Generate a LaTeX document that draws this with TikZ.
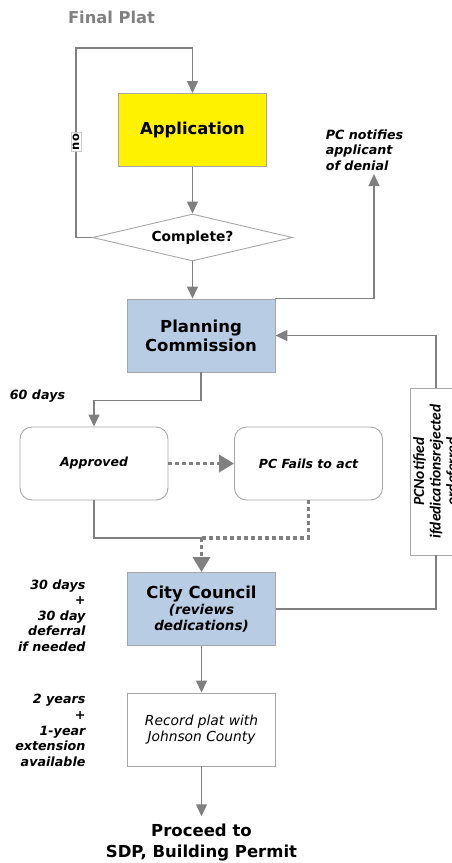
\documentclass[tikz,border=0pt]{standalone}
\usepackage{fontspec}
\setmainfont{DejaVu Sans}
\newfontfamily\notefont{Carlito}
\usetikzlibrary{shapes,arrows.meta,positioning}
\definecolor{pcblue}{HTML}{B8CCE4}
\definecolor{linegray}{HTML}{808080}
\definecolor{boxgray}{HTML}{A6A6A6}

\begin{document}
\begin{tikzpicture}[x=1pt, y=-1pt,
    box/.style={rectangle, draw=boxgray, line width=0.9pt, minimum width=148pt, minimum height=73pt, align=center},
    app/.style={box, fill=yellow, font=\fontsize{16.4}{19}\selectfont\bfseries},
    pc/.style={box, fill=pcblue, font=\fontsize{16.5}{19}\selectfont\bfseries},
    record/.style={box, fill=white, font=\fontsize{13.8}{15.5}\selectfont\itshape},
    stage/.style={rectangle, draw=boxgray, line width=0.9pt, rounded corners=12pt, minimum width=148pt, minimum height=73pt, font=\fontsize{12.5}{14}\selectfont\bfseries\itshape},
    decision/.style={diamond, draw=boxgray, line width=0.9pt, aspect=4.2, inner sep=0pt, minimum width=200pt, minimum height=47pt, font=\fontsize{13.8}{15}\selectfont\bfseries},
    note/.style={font=\fontsize{12.7}{15.6}\selectfont\bfseries\itshape, align=right},
    line/.style={draw=linegray, line width=1.3pt},
    arrow/.style={line, -{Triangle[width=11pt,length=12pt]}},
    dotline/.style={draw=linegray, line width=3.5pt, dash pattern=on 4pt off 3pt},
    dotarrow/.style={dotline, -{Triangle[width=17pt,length=15pt]}}
]
\clip (0,0) rectangle (452,863);

% Title
\node[font=\fontsize{16.3}{18}\selectfont\bfseries, text=linegray] (title) at (111.5,17) {Final Plat};

% Application and check
\node[app] (app) at (192.5,130) {Application};
\node[decision] (complete) at (192.5,237.5) {Complete?};
\coordinate (looptop) at (76,48);

% Planning commission
\node[pc] (plan) at (201,335.5) {Planning\\Commission};
\node[note, align=left] (notify) at (364.5,150) {PC notifies\\applicant\\of denial};

% Outcomes
\node[stage] (approved) at (94,463.5) {Approved};
\node[stage] (fails) at (308.5,463.5) {PC Fails to act};
\node[note] (pctime) at (37.5,396) {60 days};
\coordinate (merge) at (201.5,538);

% City council
\node[pc, font=\fontsize{16.5}{15.5}\selectfont\bfseries] (council) at (201.5,609)
      {City Council\\[1pt]{\fontsize{13.5}{15.5}\selectfont\itshape (reviews}\\{\fontsize{13.5}{15.5}\selectfont\itshape dedications)}};
\node[note, anchor=north east] (cctime) at (89,576) {30 days\\+\\30 day\\deferral\\if needed};
\node[draw=boxgray, fill=white, rotate=90, minimum width=167pt, minimum height=47pt, align=center,
      font=\notefont\fontsize{15.5}{16.5}\selectfont\bfseries\itshape] (notified) at (436,471.5)
      {PCNotified\\ifdedicationsrejected\\ordeferred};

% Recording
\node[record] (record) at (201.5,729.5) {Record plat with\\Johnson County};
\node[note, anchor=north east] (rectime) at (89,691) {2 years\\+\\1-year\\extension\\available};
\node[font=\fontsize{16.5}{21}\selectfont\bfseries, align=center, inner sep=8pt] (proceed) at (201.5,843) {Proceed to\\SDP, Building Permit};

% Application loop
\draw[arrow] (complete.west) -| (looptop) -| (app.north);
\node[draw=boxgray!60, fill=white, rotate=90, inner sep=1.5pt, font=\fontsize{11.5}{13}\selectfont\bfseries] (no) at (76,142) {no};
\draw[arrow] (app) -- (complete);
\draw[arrow] (complete.south) -- (complete.south |- plan.north);
\draw[arrow] (plan.north east) -| ([xshift=9.5pt]notify.south);

% Commission decision
\draw[arrow] (plan.south) -- ++(0,28) -| (approved.north);
\draw[dotarrow] (approved) -- (fails);
\draw[line] (approved.south) |- (merge);
\draw[dotline] (fails.south) |- (merge);
\draw[dotarrow] (merge) -- (council.north);

% Council return
\draw[line] (council.east) -| (notified.west);
\draw[arrow] (notified.east) |- (plan.east);

% To recording
\draw[arrow] (council) -- (record);
\draw[arrow] (record) -- (proceed);

\end{tikzpicture}
\end{document}
